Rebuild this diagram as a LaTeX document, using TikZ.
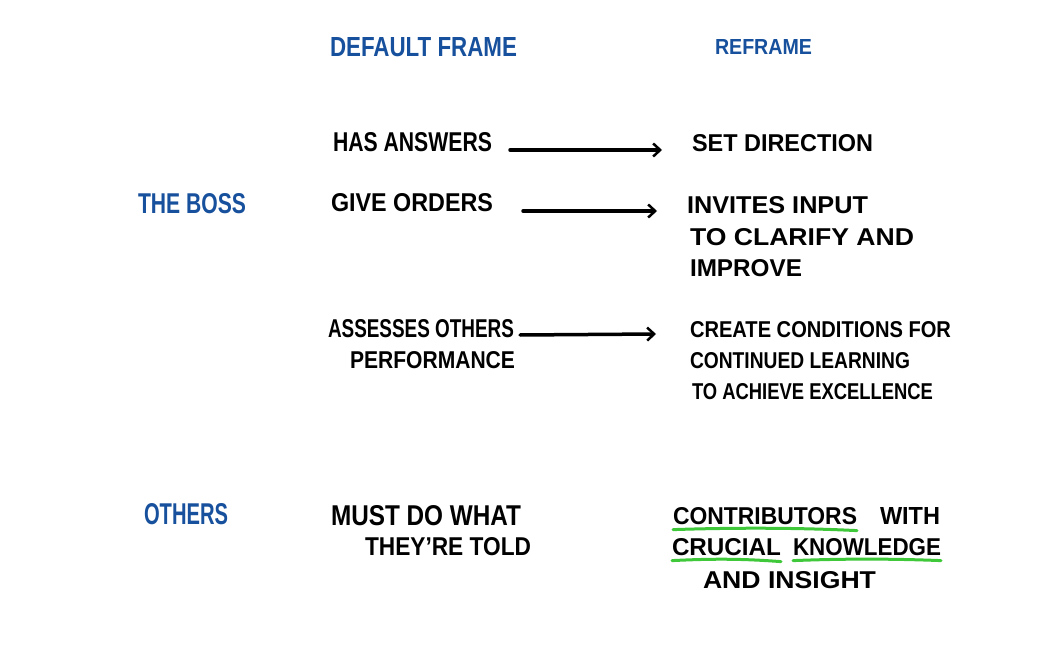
\documentclass[tikz,border=0pt]{standalone}
\usepackage{fontspec}
\setmainfont{Liberation Sans}
\usetikzlibrary{arrows.meta}
\definecolor{hblue}{HTML}{17509C}
\definecolor{hgreen}{HTML}{3EC83A}
\newcommand{\hw}[3]{\resizebox{#1pt}{#2pt}{\bfseries #3}}
\tikzset{
  txt/.style={anchor=west, inner sep=0pt, outer sep=0pt, text=black},
  head/.style={txt, text=hblue},
  arr/.style={draw=black, line width=3.5pt, line cap=round, -{Straight Barb[length=7pt,width=13pt,line width=2.5pt]}},
  uline/.style={draw=hgreen, line width=3pt, line cap=round}
}
\begin{document}
\begin{tikzpicture}[x=1pt,y=-1pt]
\useasboundingbox[fill=white] (0,0) rectangle (1050,650);
% headers
\node[head] (dflt) at (330,47) {\hw{187}{19}{DEFAULT FRAME}};
\node[head] (refr) at (715,47) {\hw{97}{15}{REFRAME}};
\node[head] (boss) at (138,204) {\hw{108}{20}{THE BOSS}};
\node[head] (othr) at (144,514) {\hw{84}{21}{OTHERS}};
% row 1
\node[txt] (has) at (333,142) {\hw{159}{19}{HAS ANSWERS}};
\node[txt] (set) at (692,143) {\hw{181}{17}{SET DIRECTION}};
% row 2
\node[txt] (give) at (331,203) {\hw{162}{18}{GIVE ORDERS}};
\node[txt] (inv1) at (687,205) {\hw{181}{17}{INVITES INPUT}};
\node[txt] (inv2) at (690,237) {\hw{224}{17}{TO CLARIFY AND}};
\node[txt] (inv3) at (690,268) {\hw{112}{17}{IMPROVE}};
% row 3
\node[txt] (ass1) at (328,329) {\hw{186}{18}{ASSESSES OTHERS}};
\node[txt] (ass2) at (350,360) {\hw{165}{17}{PERFORMANCE}};
\node[txt] (cre1) at (690,330) {\hw{261}{16}{CREATE CONDITIONS FOR}};
\node[txt] (cre2) at (690,361) {\hw{220}{16}{CONTINUED LEARNING}};
\node[txt] (cre3) at (692,392) {\hw{241}{16}{TO ACHIEVE EXCELLENCE}};
% row 4
\node[txt] (must1) at (331,516) {\hw{190}{20}{MUST DO WHAT}};
\node[txt] (must2) at (365,547) {\hw{166}{18}{THEY'RE TOLD}};
\node[txt] (con) at (673,516) {\hw{184}{17}{CONTRIBUTORS}};
\node[txt] (with) at (880,516) {\hw{60}{17}{WITH}};
\node[txt] (cru) at (672,547) {\hw{109}{17}{CRUCIAL}};
\node[txt] (kno) at (793,547) {\hw{148}{17}{KNOWLEDGE}};
\node[txt] (ins) at (703,580) {\hw{173}{17}{AND INSIGHT}};
% arrows
\draw[arr] ([xshift=18pt,yshift=-8pt]has.east) -- ([xshift=-30pt,yshift=-7pt]set.west);
\draw[arr] ([xshift=30pt,yshift=-8pt]give.east) -- ([xshift=-30pt,yshift=-6pt]inv1.west);
\draw[arr] ([xshift=6pt,yshift=-6pt]ass1.east) -- ([xshift=-34pt,yshift=-4pt]cre1.west);
% underlines
\draw[uline] ([yshift=-5pt]con.south west) .. controls ([xshift=60pt,yshift=-3pt]con.south west) and ([xshift=-60pt,yshift=-3pt]con.south east) .. ([yshift=-6pt]con.south east);
\draw[uline] ([yshift=-5pt]cru.south west) .. controls ([xshift=40pt,yshift=-3pt]cru.south west) and ([xshift=-40pt,yshift=-3pt]cru.south east) .. ([yshift=-6pt]cru.south east);
\draw[uline] ([yshift=-5pt]kno.south west) .. controls ([xshift=50pt,yshift=-3pt]kno.south west) and ([xshift=-50pt,yshift=-3pt]kno.south east) .. ([yshift=-5pt]kno.south east);
\end{tikzpicture}
\end{document}
